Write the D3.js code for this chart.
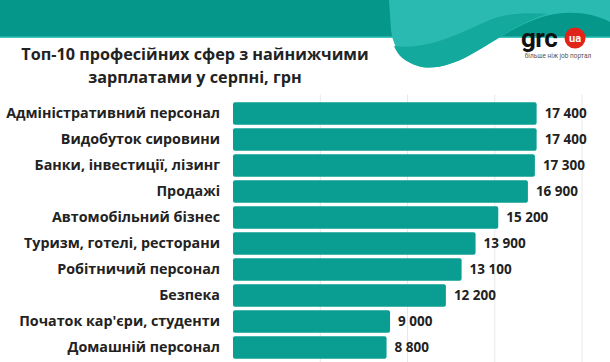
<!DOCTYPE html>
<html>
<head>
<meta charset="utf-8">
<script src="https://cdn.jsdelivr.net/npm/d3@7"></script>
<style>
  body { margin: 0; background: #fff; }
  svg { display: block; font-family: "Open Sans", sans-serif; }
</style>
</head>
<body>
<div id="chart"></div>
<script>
// chart data
const categories = [
  "Адміністративний персонал",
  "Видобуток сировини",
  "Банки, інвестиції, лізинг",
  "Продажі",
  "Автомобільний бізнес",
  "Туризм, готелі, ресторани",
  "Робітничий персонал",
  "Безпека",
  "Початок кар'єри, студенти",
  "Домашній персонал"
];
const salaries = [17400, 17400, 17300, 16900, 15200, 13900, 13100, 12200, 9000, 8800];
const gridTicks = [0, 5000, 10000, 15000, 20000];
const titleLines = ["Топ-10 професійних сфер з найнижчими", "зарплатами у серпні, грн"];

const width = 610;
const height = 362;
const margin = {left: 233, right: 28, top: 100.5, bottom: 1.5};

const svg = d3.select("#chart")
  .append("svg")
  .attr("width", width)
  .attr("height", height);

// header band + wave
svg.append("rect")
  .attr("x", 0).attr("y", 0)
  .attr("width", width).attr("height", 38)
  .attr("fill", "#05978a");
svg.append("rect")
  .attr("x", 0).attr("y", 36.5)
  .attr("width", width).attr("height", 1.5)
  .attr("fill", "#3fc6bd");

svg.append("path")
  .attr("d", "M389,0 L610,0 L610,22 C595,14 575,11 555,14 C525,19 500,38 470,55 C450,66 432,70 418,66 C400,60 393,45 391,30 Z")
  .attr("fill", "#2abab2");
svg.append("path")
  .attr("d", "M394,46 C425,50 455,36 485,22 C505,13 525,12 548,14 C525,19 500,38 470,55 C450,66 432,70 418,66 C405,62 398,56 394,46 Z")
  .attr("fill", "#14a99d");

// logo
svg.append("text")
  .attr("x", 521).attr("y", 47)
  .attr("font-family", "Roboto, sans-serif")
  .attr("font-weight", 700)
  .attr("font-size", 26)
  .attr("letter-spacing", -0.5)
  .attr("fill", "#111")
  .text("grc");
svg.append("circle")
  .attr("cx", 575).attr("cy", 38).attr("r", 10.5)
  .attr("fill", "#e2231a");
svg.append("text")
  .attr("x", 575).attr("y", 42)
  .attr("text-anchor", "middle")
  .attr("font-family", "Roboto, sans-serif")
  .attr("font-weight", 700)
  .attr("font-size", 11)
  .attr("fill", "#fff")
  .text("ua");
svg.append("text")
  .attr("x", 558).attr("y", 58)
  .attr("text-anchor", "middle")
  .attr("font-family", "Roboto, sans-serif")
  .attr("font-size", 6.5)
  .attr("fill", "#555")
  .text("більше ніж job портал");

// title
svg.selectAll(".title")
  .data(titleLines)
  .enter()
  .append("text")
  .attr("class", "title")
  .attr("x", 195)
  .attr("y", (d, i) => 60 + i * 23)
  .attr("text-anchor", "middle")
  .attr("font-weight", 700)
  .attr("font-size", 16.2)
  .attr("fill", "#222")
  .text(d => d);

// scales
const xScale = d3.scaleLinear()
  .domain([0, 20000])
  .range([margin.left, width - margin.right]);

const yScale = d3.scaleBand()
  .domain(categories)
  .range([margin.top, height - margin.bottom])
  .paddingInner(0.14)
  .paddingOuter(0.07);

// grid
svg.selectAll(".grid")
  .data(gridTicks.slice(1))
  .enter()
  .append("line")
  .attr("class", "grid")
  .attr("x1", d => xScale(d)).attr("x2", d => xScale(d))
  .attr("y1", margin.top - 6).attr("y2", height)
  .attr("stroke", "#e8e8e8")
  .attr("stroke-width", 1);

// category labels
svg.append("g")
  .attr("transform", `translate(${margin.left - 13},0)`)
  .call(d3.axisLeft(yScale).tickSize(0).tickPadding(0))
  .call(g => g.select(".domain").remove())
  .selectAll("text")
  .attr("font-family", "'Open Sans', sans-serif")
  .attr("font-weight", 700)
  .attr("font-size", 14.3)
  .attr("fill", "#222");

// bars
svg.selectAll(".bar")
  .data(salaries)
  .enter()
  .append("rect")
  .attr("class", "bar")
  .attr("x", xScale(0))
  .attr("y", (d, i) => yScale(categories[i]))
  .attr("width", d => xScale(d) - xScale(0))
  .attr("height", yScale.bandwidth())
  .attr("rx", 2)
  .attr("fill", "#0a9d92");

// value labels
const fmt = d3.formatLocale({thousands: " ", grouping: [3], decimal: ",", currency: ["", ""]}).format(",");
svg.selectAll(".value")
  .data(salaries)
  .enter()
  .append("text")
  .attr("class", "value")
  .attr("x", d => xScale(d) + 8)
  .attr("y", (d, i) => yScale(categories[i]) + yScale.bandwidth() / 2)
  .attr("dy", "0.36em")
  .attr("font-weight", 700)
  .attr("font-size", 13.5)
  .attr("fill", "#222")
  .text(d => fmt(d));
</script>
</body>
</html>
